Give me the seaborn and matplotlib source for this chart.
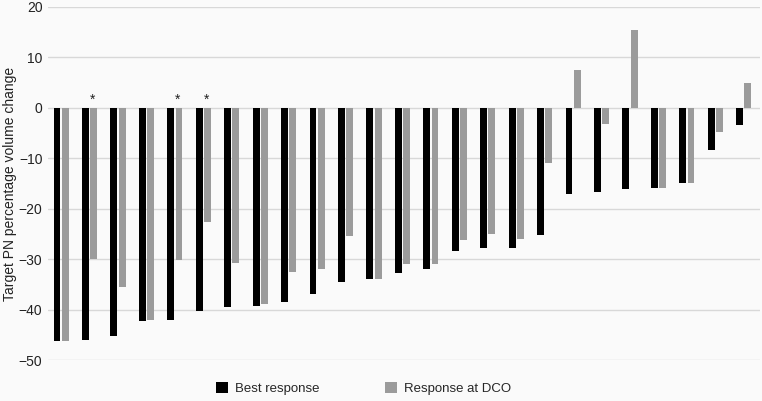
import pandas as pd
import matplotlib
matplotlib.use("Agg")
import matplotlib.pyplot as plt
import seaborn as sns

# === DATA ===
patients = [f"P{i}" for i in range(1, 26)]
best_response = [-46.3, -46.0, -45.2, -42.3, -42.1, -40.2, -39.4, -39.2, -38.5, -37.0,
                 -34.5, -34.0, -32.8, -31.9, -28.3, -27.8, -27.7, -25.3, -17.1, -16.7,
                 -16.0, -15.9, -14.9, -8.3, -3.4]
response_dco = [-46.3, -30.0, -35.6, -42.1, -30.2, -22.7, -30.8, -38.8, -32.6, -31.9,
                -25.5, -34.0, -31.0, -30.9, -26.3, -25.1, -26.0, -11.0, 7.5, -3.2,
                15.5, -15.9, -14.9, -4.9, 5.0]
starred = ["P2", "P5", "P6"]
series_names = ["Best response", "Response at DCO"]
yticks = [-50, -40, -30, -20, -10, 0, 10, 20]

# long form table for seaborn
df = pd.DataFrame({
    "patient": patients * 2,
    "value": best_response + response_dco,
    "series": [series_names[0]] * len(patients) + [series_names[1]] * len(patients),
})

bg = "#fafafa"
sns.set_theme(style="white")
plt.rcParams["font.family"] = ["Liberation Sans", "DejaVu Sans"]

fig = plt.figure(figsize=(7.62, 4.01), dpi=100, facecolor=bg)
ax = fig.add_axes([0.063, 0.102, 0.934, 0.881])
ax.set_facecolor(bg)

sns.barplot(data=df, x="patient", y="value", hue="series", order=patients,
            hue_order=series_names, palette=["#000000", "#9b9b9b"],
            saturation=1, width=0.58, gap=0.16, dodge=True, linewidth=0, ax=ax)

# asterisks over selected patients
for p in starred:
    i = patients.index(p)
    ax.text(i + 0.1, 1.6, "*", ha="center", va="center", fontsize=10, color="#222222")

ax.set_ylim(-50, 20)
ax.set_xlim(-0.46, 24.56)
ax.set_yticks(yticks)
ax.set_xticks([])
ax.set_xlabel("")
ax.set_ylabel("Target PN percentage volume change", fontsize=10, color="#222222")
ax.yaxis.set_label_coords(-0.043, 0.5)
ax.tick_params(axis="y", length=0, labelsize=10, colors="#222222", pad=4)
ax.grid(axis="y", color="#d8d8d8", linewidth=1)
ax.set_axisbelow(True)
for s in ax.spines.values():
    s.set_visible(False)

handles, labels = ax.get_legend_handles_labels()
ax.get_legend().remove()
fig.legend(handles, labels, loc="center", bbox_to_anchor=(0.477, 0.032), ncol=2,
           frameon=False, fontsize=9.5, handlelength=0.9, handleheight=0.9,
           handletextpad=0.5, columnspacing=5.0)

fig.savefig("out.png", dpi=100, facecolor=bg)
